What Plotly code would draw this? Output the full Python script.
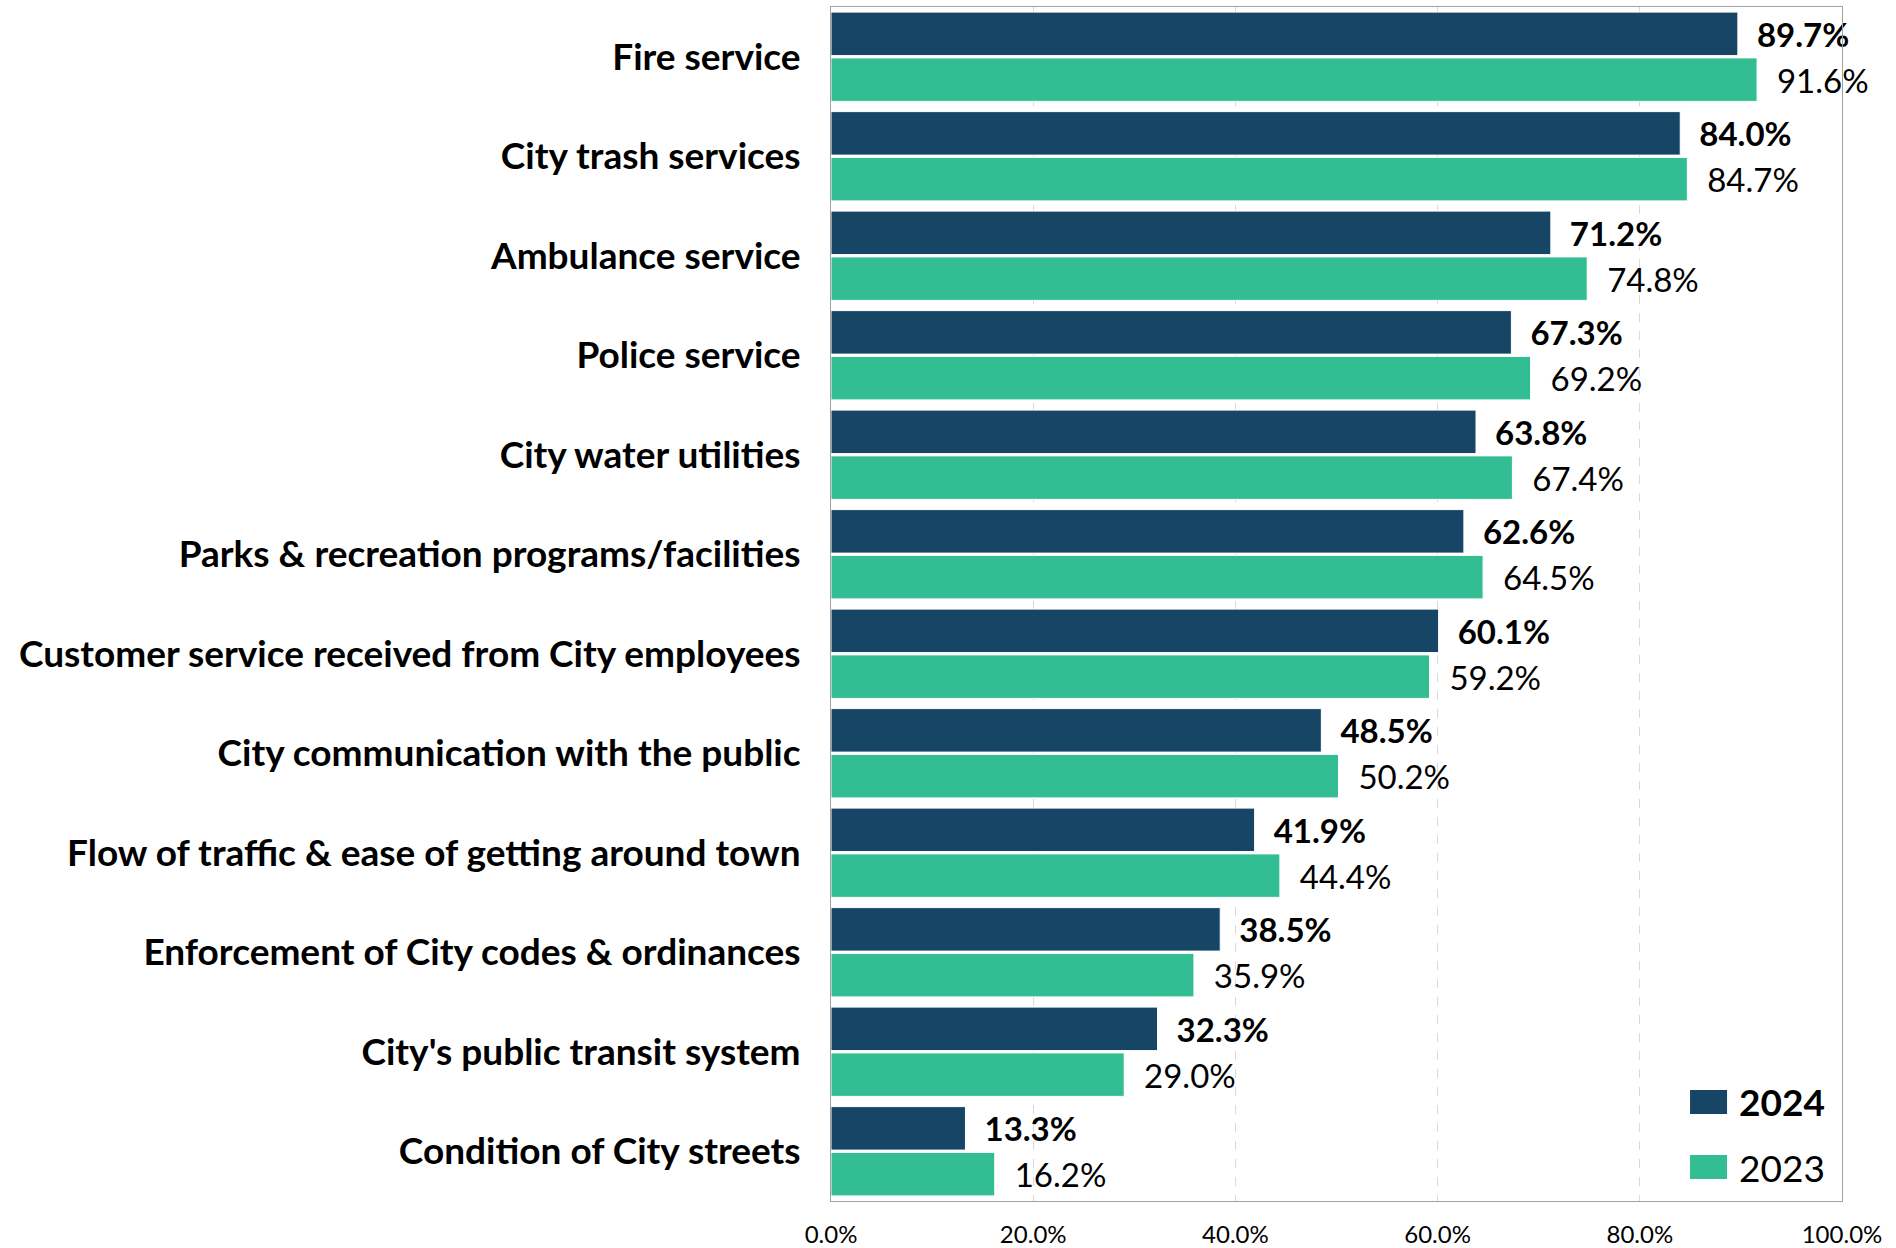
import plotly.graph_objects as go

categories = [
    "Fire service",
    "City trash services",
    "Ambulance service",
    "Police service",
    "City water utilities",
    "Parks & recreation programs/facilities",
    "Customer service received from City employees",
    "City communication with the public",
    "Flow of traffic & ease of getting around town",
    "Enforcement of City codes & ordinances",
    "City's public transit system",
    "Condition of City streets",
]
values_2024 = [89.7, 84.0, 71.2, 67.3, 63.8, 62.6, 60.1, 48.5, 41.9, 38.5, 32.3, 13.3]
values_2023 = [91.6, 84.7, 74.8, 69.2, 67.4, 64.5, 59.2, 50.2, 44.4, 35.9, 29.0, 16.2]
tick_vals = [0, 20, 40, 60, 80, 100]
tick_text = ["0.0%", "20.0%", "40.0%", "60.0%", "80.0%", "100.0%"]

C2024 = "#164566"
C2023 = "#32BE92"
FONT = "Lato"
PAD = "\u00a0\u00a0"

fig = go.Figure()
fig.add_trace(go.Bar(
    y=categories, x=values_2024, orientation="h", name="2024",
    marker=dict(color=C2024, line=dict(color="white", width=1)),
    text=[f"{PAD}{v:.1f}%" for v in values_2024], textposition="outside",
    textfont=dict(family=FONT, size=33, color="black", weight="bold"),
    constraintext="none", cliponaxis=False, showlegend=False,
))
fig.add_trace(go.Bar(
    y=categories, x=values_2023, orientation="h", name="2023",
    marker=dict(color=C2023, line=dict(color="white", width=1)),
    text=[f"{PAD}{v:.1f}%" for v in values_2023], textposition="outside",
    textfont=dict(family=FONT, size=33, color="black"),
    constraintext="none", cliponaxis=False, showlegend=False,
))

# manual legend (large rectangular swatches as in the reference)
legend_items = [("2024", C2024, True), ("2023", C2023, False)]
for i, (name, col, bold) in enumerate(legend_items):
    y_top = 0.093 - i * 0.0545
    y_bot = y_top - 0.0201
    fig.add_shape(type="rect", xref="paper", yref="paper",
                  x0=0.8497, x1=0.8863, y0=y_bot, y1=y_top,
                  fillcolor=col, line=dict(width=0))
    fig.add_annotation(xref="paper", yref="paper", x=0.8961, y=(y_top + y_bot) / 2,
                       xanchor="left", yanchor="middle", showarrow=False,
                       text=f"<b>{name}</b>" if bold else name,
                       font=dict(family=FONT, size=37, color="black"))

fig.update_layout(
    width=1896, height=1248,
    margin=dict(l=831, r=54, t=7, b=47, autoexpand=False),
    paper_bgcolor="white", plot_bgcolor="white",
    barmode="group", bargap=0.08, bargroupgap=0.05,
    font=dict(family=FONT, color="black"),
)
fig.update_xaxes(
    range=[0, 100], tickvals=tick_vals, ticktext=tick_text,
    tickfont=dict(family=FONT, size=24, color="black"),
    showgrid=True, gridcolor="#d9d9d9", griddash="dash", gridwidth=1,
    showline=True, linecolor="#a0a0a0", linewidth=1, mirror=True,
    zeroline=False, ticks="", ticklabelstandoff=12, automargin=False,
)
fig.update_yaxes(
    autorange="reversed", categoryorder="array", categoryarray=categories,
    tickfont=dict(family=FONT, size=37, color="black", weight="bold"),
    showline=True, linecolor="#a0a0a0", linewidth=1, mirror=True,
    ticks="", ticklabelstandoff=22, showgrid=False, automargin=False,
)

fig.write_html(
    "out.html",
    config={"displayModeBar": False},
    post_script="document.body.style.margin='0';document.body.style.overflow='hidden';",
)
